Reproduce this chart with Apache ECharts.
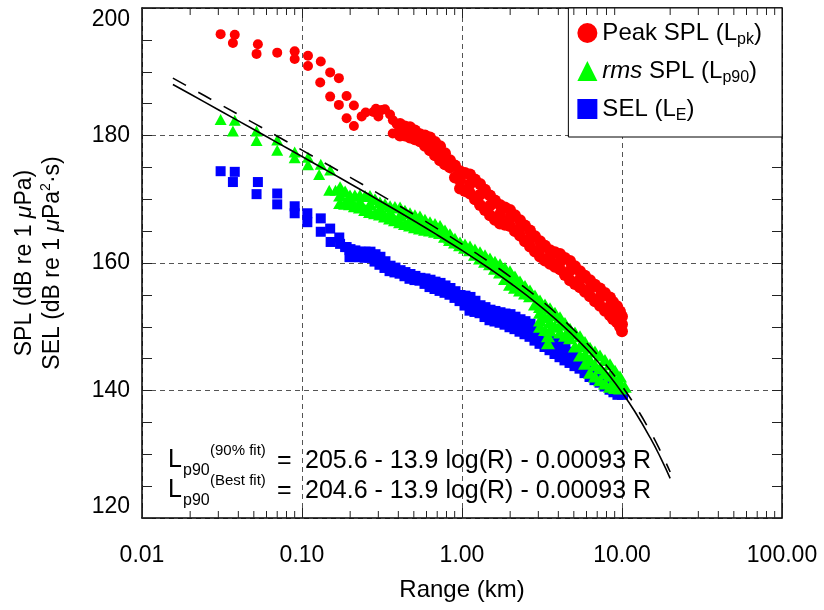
<!DOCTYPE html>
<html>
<head>
<meta charset="utf-8">
<script src="https://cdn.jsdelivr.net/npm/echarts@6/dist/echarts.min.js"></script>
<style>
html,body{margin:0;padding:0;background:#fff;}
#c{width:824px;height:610px;}
</style>
</head>
<body>
<div id="c"></div>
<script>
// ---------- DATA ----------
const seriesNames = ['Peak SPL (Lpk)', 'rms SPL (Lp90)', 'SEL (LE)'];
const legendLabels = ['{t|Peak SPL (L}{sub|pk}{t|)}', '{it|rms}{t| SPL (L}{sub|p90}{t|)}', '{t|SEL (L}{sub|E}{t|)}'];
const xTickValues = [0.01, 0.1, 1, 10, 100];
const xTickLabels = ['0.01', '0.10', '1.00', '10.00', '100.00'];
const minorMultipliers = [2, 3, 4, 5, 6, 7, 8, 9];
const yMin = 120, yMax = 200, yStep = 20;

// Peak SPL: [range km, dB]
const peakEarly = [
  [0.031,195.9],[0.038,195.8],[0.037,194.5],[0.053,194.3],[0.052,192.8],[0.070,193.0],
  [0.090,193.2],[0.090,192.0],[0.109,192.5],[0.109,190.9],[0.131,191.6],[0.150,189.9],
  [0.170,189.0],[0.130,188.3],[0.150,186.1],[0.170,184.8],[0.190,186.2],[0.190,182.7],
  [0.211,184.7],[0.211,181.5],[0.236,183.0],[0.25,183.6],[0.279,183.7],[0.29,184.2],
  [0.315,184.0],[0.33,184.1],[0.355,183.3],[0.37,182.4],[0.30,183.0],[0.369,180.3],[0.39,181.8]
];
const peakBand = [
  [0.410,181.8],[0.410,180.9],[0.410,180.0],[0.44,181.4],[0.44,180.0],
  [0.473,181.3],[0.473,180.5],[0.473,179.7],[0.508,180.8],[0.508,179.4],
  [0.546,180.2],[0.546,179.6],[0.546,179.1],[0.587,180.0],[0.587,178.4],
  [0.631,179.7],[0.631,178.7],[0.631,177.7],[0.678,179.0],[0.678,176.9],
  [0.729,178.3],[0.729,177.2],[0.729,176.1],[0.783,177.2],[0.783,175.5],
  [0.841,176.1],[0.841,175.5],[0.841,175.0],[0.904,175.3],[0.904,173.4],
  [0.972,174.4],[0.972,173.0],[0.972,171.7],[1.044,174.1],[1.044,171.3],
  [1.122,173.9],[1.122,172.4],[1.122,170.9],[1.205,173.1],[1.205,170.0],
  [1.296,172.4],[1.296,170.7],[1.296,169.1],[1.392,171.5],[1.392,168.3],
  [1.496,170.6],[1.496,169.0],[1.496,167.5],[1.607,169.8],[1.607,166.8],
  [1.728,169.1],[1.728,167.6],[1.728,166.2],[1.856,168.7],[1.856,166.0],
  [1.995,168.3],[1.995,167.0],[1.995,165.8],[2.143,167.5],[2.143,165.0],
  [2.304,166.7],[2.304,165.5],[2.304,164.3],[2.475,165.9],[2.475,163.4],
  [2.661,165.1],[2.661,163.8],[2.661,162.6],[2.858,164.2],[2.858,161.8],
  [3.073,163.4],[3.073,162.2],[3.073,161.0],[3.301,162.7],[3.301,160.4],
  [3.548,162.0],[3.548,160.9],[3.548,159.9],[3.811,161.7],[3.811,159.4],
  [4.097,161.4],[4.097,160.2],[4.097,159.0],[4.401,160.8],[4.401,158.1],
  [4.732,160.3],[4.732,158.8],[4.732,157.3],[5.082,159.5],[5.082,156.7],
  [5.464,158.7],[5.464,157.4],[5.464,156.2],[5.869,158.0],[5.869,155.5],
  [6.31,157.3],[6.31,156.0],[6.31,154.8],[6.777,156.6],[6.777,154.0],
  [7.286,156.0],[7.286,154.6],[7.286,153.3],[7.826,155.3],[7.826,152.5],
  [8.414,154.6],[8.414,153.2],[8.414,151.8],[8.785,153.9],[8.785,151.2],
  [9.31,153.2],[9.31,151.9],[9.31,150.7],[9.716,152.4],[9.716,150.0],
  [10.0,151.6],[10.0,150.4],[10.0,149.3]
];

// rms SPL (Lp90): [range km, dB]
const rmsEarly = [
  [0.031,182.5],[0.038,182.4],[0.037,180.7],[0.052,180.7],[0.052,179.2],[0.070,179.3],
  [0.070,177.7],[0.090,177.4],[0.090,176.5],[0.109,176.6],[0.109,175.4],[0.128,173.9],
  [0.131,175.5],[0.148,171.4],[0.150,174.6],[0.162,171.4]
];
const rmsBand = [
  [0.173,171.9],[0.173,170.6],[0.173,169.4],[0.186,171.2],[0.186,169.3],
  [0.1995,170.6],[0.1995,169.9],[0.1995,169.2],[0.214,170.6],[0.214,168.9],
  [0.230,170.6],[0.230,169.6],[0.230,168.7],[0.248,170.5],[0.248,168.3],
  [0.266,170.5],[0.266,169.2],[0.266,168.0],[0.286,170.0],[0.286,167.8],
  [0.307,169.5],[0.307,168.5],[0.307,167.6],[0.330,169.2],[0.330,167.3],
  [0.355,168.9],[0.355,168.0],[0.355,167.0],[0.381,168.8],[0.381,166.7],
  [0.410,168.7],[0.410,167.5],[0.410,166.4],[0.44,168.2],[0.44,166.1],
  [0.473,167.8],[0.473,166.8],[0.473,165.9],[0.508,167.5],[0.508,165.6],
  [0.546,167.3],[0.546,166.3],[0.546,165.4],[0.587,166.8],[0.587,165.2],
  [0.631,166.4],[0.631,165.7],[0.631,165.1],[0.678,166.1],[0.678,164.9],
  [0.729,165.8],[0.729,165.2],[0.729,164.7],[0.783,165.1],[0.783,164.1],
  [0.841,164.5],[0.841,164.0],[0.841,163.6],[0.904,163.8],[0.904,163.2],
  [0.972,163.2],[0.972,162.8],[1.044,162.9],[1.044,162.4],
  [1.122,162.6],[1.122,162.0],[1.205,162.1],[1.205,161.3],
  [1.296,161.7],[1.296,160.7],[1.392,161.2],[1.392,160.2],
  [1.496,160.7],[1.496,159.8],[1.607,160.2],[1.607,159.1],
  [1.728,159.8],[1.728,158.5],[1.856,159.2],[1.856,157.5],
  [1.995,158.7],[1.995,157.6],[1.995,156.6],[2.143,157.9],[2.143,156.1],
  [2.304,157.1],[2.304,156.4],[2.304,155.7],[2.475,156.4],[2.475,155.2],
  [2.661,155.7],[2.661,155.2],[2.661,154.8],[2.858,154.9],[2.858,153.5],
  [3.073,154.1],[3.073,153.1],[3.073,152.2],[3.073,151.0],[3.073,150.0],
  [3.301,153.5],[3.301,151.5],[3.301,149.5],[3.447,148.5],[3.447,147.4],
  [3.548,152.9],[3.548,151.8],[3.548,150.7],[3.548,149.4],[3.811,152.2],[3.811,150.0],
  [4.097,151.5],[4.097,150.3],[4.097,149.1],[4.401,150.6],[4.401,148.6],
  [4.732,149.7],[4.732,149.0],[4.732,148.2],[5.082,149.1],[5.082,146.9],
  [5.464,148.5],[5.464,147.0],[5.464,145.5],[5.869,147.6],[5.869,145.7],[5.869,144.2],
  [6.31,146.7],[6.31,144.8],[6.31,142.8],[6.777,146.1],[6.777,144.0],[6.777,142.2],
  [7.286,145.5],[7.286,143.5],[7.286,141.6],[7.826,144.8],[7.826,142.7],[7.826,141.1],
  [8.414,144.1],[8.414,142.3],[8.414,140.6],[9.05,143.1],[9.05,141.5],[9.05,140.4],
  [9.716,142.2],[9.716,141.2],[9.716,140.3],[10.4,140.6]
];

// SEL (LE): [range km, dB]
const selEarly = [
  [0.031,174.4],[0.038,174.3],[0.037,172.7],[0.053,172.7],[0.052,170.8],[0.070,170.9],
  [0.070,169.2],[0.090,168.9],[0.090,167.8],[0.108,167.8],[0.108,166.4],[0.131,167.0],
  [0.131,164.9],[0.150,165.4],[0.151,163.3],[0.171,164.0],[0.173,163.0],[0.19,162.5],[0.186,162.5]
];
const selBand = [
  [0.1995,162.1],[0.1995,161.0],[0.214,161.9],[0.214,161.0],
  [0.230,161.7],[0.230,161.0],[0.248,161.7],[0.248,160.9],
  [0.266,161.7],[0.266,160.9],[0.286,161.3],[0.286,160.3],
  [0.307,160.9],[0.307,159.8],[0.330,160.2],[0.330,159.3],
  [0.355,159.5],[0.355,158.8],[0.381,159.2],[0.381,158.6],
  [0.410,158.8],[0.410,158.4],[0.44,158.5],[0.44,158.0],
  [0.473,158.2],[0.473,157.6],[0.508,157.9],[0.508,157.4],
  [0.546,157.6],[0.546,157.3],[0.587,157.5],[0.587,156.8],
  [0.631,157.3],[0.631,156.3],[0.678,157.0],[0.678,156.0],
  [0.729,156.8],[0.729,155.7],[0.783,156.4],[0.783,155.4],
  [0.841,156.0],[0.841,155.1],[0.904,155.5],[0.904,154.6],
  [0.972,154.9],[0.972,154.1],[1.044,154.8],[1.044,153.4],
  [1.122,154.6],[1.122,153.6],[1.122,152.6],[1.205,154.0],[1.205,152.4],
  [1.296,153.3],[1.296,152.2],[1.392,153.0],[1.392,151.6],
  [1.496,152.6],[1.496,151.1],[1.607,152.4],[1.607,150.9],
  [1.728,152.2],[1.728,150.7],[1.856,152.0],[1.856,150.4],
  [1.995,151.9],[1.995,150.0],[2.143,151.5],[2.143,149.7],
  [2.304,151.1],[2.304,149.3],[2.475,150.8],[2.475,148.9],
  [2.661,150.4],[2.661,148.5],[2.858,149.7],[2.858,147.9],
  [3.073,148.9],[3.073,147.4],[3.301,148.4],[3.301,146.9],
  [3.548,147.8],[3.548,146.4],[3.811,147.5],[3.811,145.8],
  [4.097,147.1],[4.097,145.3],[4.401,146.5],[4.401,144.8],
  [4.732,146.0],[4.732,144.4],[5.082,145.5],[5.082,143.9],
  [5.464,145.0],[5.464,143.5],[5.869,144.4],[5.869,142.8],
  [6.31,143.8],[6.31,142.2],[6.777,143.1],[6.777,141.7],
  [7.286,142.5],[7.286,141.3],[7.826,141.9],[7.826,140.7],
  [8.414,141.3],[8.414,140.2],[8.9,140.6],[8.9,139.8],
  [9.43,140.0],[9.43,139.4],[10.07,139.4]
];

// Fit curves: range (km) and level (dB)
const fitRange      = [0.0156, 0.02, 0.03, 0.05, 0.07, 0.1, 0.15, 0.2, 0.3, 0.5, 0.7, 1, 1.5, 2, 3, 4, 5, 6, 7, 8, 10, 12, 15, 17.5, 20];
const fit90Values   = [189.0, 187.5, 185.04, 181.94, 179.89, 177.71, 175.21, 173.43, 170.89, 167.62, 165.40, 162.97, 160.06, 157.86, 154.48, 151.81, 149.53, 147.50, 145.64, 143.91, 140.70, 137.74, 133.60, 130.35, 127.22];
const fitBestValues = [188.0, 186.5, 184.04, 180.94, 178.89, 176.71, 174.21, 172.43, 169.89, 166.62, 164.40, 161.97, 159.06, 156.86, 153.48, 150.81, 148.53, 146.50, 144.64, 142.91, 139.70, 136.74, 132.60, 129.35, 126.22];

// Annotation texts
const annotMain = ['L', 'L'];
const annotSub = ['p90', 'p90'];
const annotSup = ['(90% fit)', '(Best fit)'];
const annotEq = ['=', '='];
const annotExpr = ['205.6 - 13.9 log(R) - 0.00093 R', '204.6 - 13.9 log(R) - 0.00093 R'];

// ---------- CHART ----------
const FONT = "'Liberation Sans', Arial, Helvetica, sans-serif";
const chart = echarts.init(document.getElementById('c'), null, {renderer: 'canvas'});

function xLabel(v) {
  for (let i = 0; i < xTickValues.length; i++) {
    if (Math.abs(Math.log10(v) - Math.log10(xTickValues[i])) < 1e-6) return xTickLabels[i];
  }
  return '';
}
// isolated early markers are drawn at the nominal size; the dense band slightly larger
function sizeFor(earlyCount, small, big) {
  return function (val, params) { return params.dataIndex < earlyCount ? small : big; };
}

const axisLineStyle = {color: '#000', width: 1.5};
const tickStyle = {color: '#222', width: 1};

const option = {
  animation: false,
  backgroundColor: '#fff',
  grid: {left: 142, right: 42, top: 8, bottom: 92, containLabel: false},
  xAxis: [
    {
      type: 'log', logBase: 10, min: xTickValues[0], max: xTickValues[xTickValues.length - 1],
      splitNumber: 4, position: 'bottom',
      name: 'Range (km)', nameLocation: 'middle', nameGap: 60,
      nameTextStyle: {fontFamily: FONT, fontSize: 24, color: '#000'},
      axisLine: {show: true, lineStyle: axisLineStyle},
      axisTick: {show: true, inside: true, length: 10, lineStyle: tickStyle},
      axisLabel: {show: true, formatter: xLabel, fontFamily: FONT, fontSize: 23, color: '#000', margin: 26},
      splitLine: {show: true, lineStyle: {color: '#555', width: 1, type: [5, 4]}}
    },
    {
      type: 'log', logBase: 10, min: xTickValues[0], max: xTickValues[xTickValues.length - 1],
      splitNumber: 4, position: 'top',
      axisLine: {show: true, lineStyle: axisLineStyle},
      axisTick: {show: true, inside: true, length: 10, lineStyle: tickStyle},
      axisLabel: {show: false},
      splitLine: {show: false}
    }
  ],
  yAxis: [
    {
      type: 'value', min: yMin, max: yMax, interval: yStep, position: 'left',
      name: '{t|SPL (dB re 1 }{it|μ}{t|Pa)}\n{t|SEL (dB re 1 }{it|μ}{t|Pa}{sup|2}{t|·s)}',
      nameLocation: 'middle', nameGap: 75,
      nameTextStyle: {
        fontFamily: FONT, fontSize: 23, color: '#000', lineHeight: 28,
        rich: {
          t: {fontFamily: FONT, fontSize: 23, color: '#000', lineHeight: 28},
          it: {fontFamily: FONT, fontSize: 23, color: '#000', fontStyle: 'italic', lineHeight: 28},
          sup: {fontFamily: FONT, fontSize: 14, color: '#000', lineHeight: 10, verticalAlign: 'top'}
        }
      },
      axisLine: {show: true, lineStyle: axisLineStyle},
      axisTick: {show: true, inside: true, length: 10, lineStyle: tickStyle},
      minorTick: {show: true, splitNumber: 4, length: 10, lineStyle: tickStyle},
      axisLabel: {show: true, fontFamily: FONT, fontSize: 23, color: '#000', margin: 12,
        verticalAlignMinLabel: 'bottom', verticalAlignMaxLabel: 'top'},
      splitLine: {show: true, lineStyle: {color: '#555', width: 1, type: [5, 4]}}
    },
    {
      type: 'value', min: yMin, max: yMax, interval: yStep, position: 'right',
      axisLine: {show: true, lineStyle: axisLineStyle},
      axisTick: {show: true, inside: true, length: 10, lineStyle: tickStyle},
      minorTick: {show: true, splitNumber: 4, length: 10, lineStyle: tickStyle},
      axisLabel: {show: false},
      splitLine: {show: false}
    }
  ],
  legend: {
    orient: 'vertical', right: 42, top: 8,
    data: [
      {name: seriesNames[0], icon: 'circle'},
      {name: seriesNames[1], icon: 'triangle'},
      {name: seriesNames[2], icon: 'rect'}
    ],
    itemWidth: 20, itemHeight: 20, itemGap: 11,
    padding: [13, 20, 13, 9],
    borderColor: '#000', borderWidth: 1, borderRadius: 0, backgroundColor: '#fff',
    selectedMode: false,
    formatter: function (name) { return legendLabels[seriesNames.indexOf(name)]; },
    textStyle: {
      fontFamily: FONT, fontSize: 24, color: '#000', lineHeight: 22,
      rich: {
        t: {fontFamily: FONT, fontSize: 24, color: '#000', lineHeight: 22},
        it: {fontFamily: FONT, fontSize: 24, color: '#000', fontStyle: 'italic', lineHeight: 22},
        sub: {fontFamily: FONT, fontSize: 16, color: '#000', lineHeight: 2, verticalAlign: 'top', padding: [10, 0, 0, 0]}
      }
    }
  },
  series: [
    {
      name: seriesNames[2], type: 'scatter', symbol: 'rect', symbolSize: sizeFor(selEarly.length, 10, 11),
      itemStyle: {color: '#0000ff', opacity: 1}, data: selEarly.concat(selBand), z: 2
    },
    {
      name: seriesNames[1], type: 'scatter', symbol: 'triangle', symbolSize: sizeFor(rmsEarly.length, [12, 11], [14, 12]),
      itemStyle: {color: '#00ff00', opacity: 1}, data: rmsEarly.concat(rmsBand), z: 3
    },
    {
      name: seriesNames[0], type: 'scatter', symbol: 'circle', symbolSize: sizeFor(peakEarly.length, 10, 12),
      itemStyle: {color: '#ff0000', opacity: 1}, data: peakEarly.concat(peakBand), z: 4
    },
    {
      name: '90% fit', type: 'line', showSymbol: false, symbol: 'none', smooth: true, z: 5,
      lineStyle: {color: '#000', width: 1.6, type: [15, 14]},
      data: fitRange.map((r, i) => [r, fit90Values[i]])
    },
    {
      name: 'Best fit', type: 'line', showSymbol: false, symbol: 'none', smooth: true, z: 5,
      lineStyle: {color: '#000', width: 1.6},
      data: fitRange.map((r, i) => [r, fitBestValues[i]])
    }
  ]
};
chart.setOption(option);

// minor log ticks and annotations
const yBottom = chart.convertToPixel({yAxisIndex: 0}, yMin);
const yTop = chart.convertToPixel({yAxisIndex: 0}, yMax);
const graphics = [];
xTickValues.slice(0, -1).forEach(function (d) {
  minorMultipliers.forEach(function (m) {
    const x = chart.convertToPixel({xAxisIndex: 0}, d * m);
    graphics.push({type: 'line', silent: true, z: 10, shape: {x1: x, y1: yBottom, x2: x, y2: yBottom - 7}, style: {stroke: '#222', lineWidth: 1}});
    graphics.push({type: 'line', silent: true, z: 10, shape: {x1: x, y1: yTop, x2: x, y2: yTop + 7}, style: {stroke: '#222', lineWidth: 1}});
  });
});
const rowY = [460, 490];
annotMain.forEach(function (t, i) {
  const y = rowY[i];
  graphics.push({type: 'text', z: 10, x: 168, y: y, style: {text: t, fontFamily: FONT, fontSize: 25, fill: '#000', align: 'left', verticalAlign: 'middle'}});
  graphics.push({type: 'text', z: 10, x: 183, y: y + 11, style: {text: annotSub[i], fontFamily: FONT, fontSize: 16, fill: '#000', align: 'left', verticalAlign: 'middle'}});
  graphics.push({type: 'text', z: 10, x: 210, y: y - 9, style: {text: annotSup[i], fontFamily: FONT, fontSize: 15, fill: '#000', align: 'left', verticalAlign: 'middle'}});
  graphics.push({type: 'text', z: 10, x: 277, y: y + 1, style: {text: annotEq[i], fontFamily: FONT, fontSize: 25, fill: '#000', align: 'left', verticalAlign: 'middle'}});
  graphics.push({type: 'text', z: 10, x: 305, y: y + 1, style: {text: annotExpr[i], fontFamily: FONT, fontSize: 25, fill: '#000', align: 'left', verticalAlign: 'middle'}});
});
chart.setOption({graphic: graphics});
</script>
</body>
</html>
